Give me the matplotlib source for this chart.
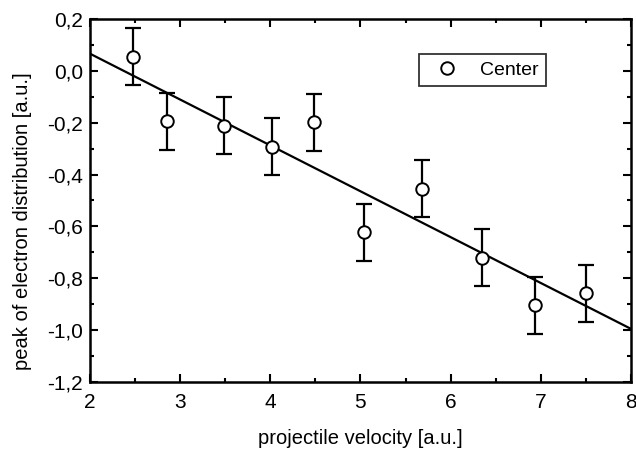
import numpy as np
import matplotlib.pyplot as plt
from matplotlib.ticker import MultipleLocator, FuncFormatter

# measured points
velocity = [2.48, 2.85, 3.49, 4.02, 4.49, 5.04, 5.68, 6.35, 6.94, 7.50]
peak = [0.055, -0.195, -0.212, -0.292, -0.198, -0.622, -0.455, -0.720, -0.905, -0.857]
peak_err = [0.11, 0.11, 0.11, 0.11, 0.11, 0.11, 0.11, 0.11, 0.11, 0.11]

# linear fit line (end points)
fit_x = [2.0, 8.0]
fit_y = [0.066, -0.995]

plt.rcParams['font.family'] = ['Liberation Sans', 'DejaVu Sans']

fig = plt.figure(figsize=(6.36, 4.51), dpi=100)
ax = fig.add_axes([0.1415, 0.153, 0.8505, 0.805])

ax.plot(fit_x, fit_y, color='black', linewidth=1.6, zorder=2)
ax.errorbar(velocity, peak, yerr=peak_err, fmt='none', ecolor='black',
            elinewidth=1.6, capsize=6, capthick=1.6, zorder=3)
ax.plot(velocity, peak, 'o', markerfacecolor='white', markeredgecolor='black',
        markersize=9, markeredgewidth=1.4, zorder=4, label='Center')

ax.set_xlim(2, 8)
ax.set_ylim(-1.2, 0.2)
ax.xaxis.set_major_locator(MultipleLocator(1))
ax.xaxis.set_minor_locator(MultipleLocator(0.5))
ax.yaxis.set_major_locator(MultipleLocator(0.2))
ax.yaxis.set_minor_locator(MultipleLocator(0.1))
ax.yaxis.set_major_formatter(FuncFormatter(lambda v, p: ('%.1f' % v).replace('.', ',').replace('-0,0', '0,0')))

ax.tick_params(which='both', direction='in', top=True, right=True, width=1.5, labelsize=15)
ax.tick_params(which='major', length=6)
ax.tick_params(which='minor', length=3)
ax.tick_params(axis='x', which='major', pad=8)
ax.tick_params(axis='y', which='major', pad=5)
for s in ax.spines.values():
    s.set_linewidth(1.8)

ax.set_xlabel('projectile velocity [a.u.]', fontsize=14.5, labelpad=12)
ax.set_ylabel('peak of electron distribution [a.u.]', fontsize=14.5)
ax.yaxis.set_label_coords(-0.108, 0.443)

leg = ax.legend(loc='upper left', bbox_to_anchor=(0.608, 0.9036), frameon=True, fancybox=False,
                edgecolor='black', fontsize=14, handletextpad=0.6, borderpad=0.36,
                borderaxespad=0, handlelength=2.2)
leg.get_frame().set_linewidth(1.3)

plt.savefig('out.png', dpi=100)
